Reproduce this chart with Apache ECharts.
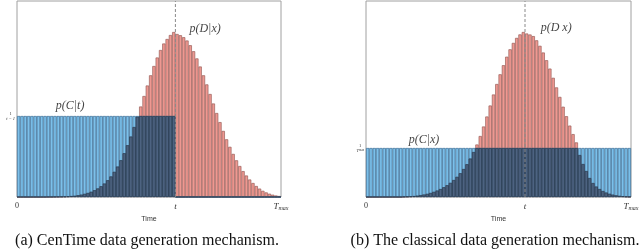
<!DOCTYPE html>
<html><head><meta charset="utf-8">
<script src="https://cdn.jsdelivr.net/npm/echarts@6/dist/echarts.min.js"></script>
<style>html,body{margin:0;padding:0;background:#fff}#c{width:640px;height:249px}</style>
</head><body><div id="c"></div>
<script>
// ---- data ----
const nBins = 80;
const tBin = 48;          // position of t on the time axis (bins)
const tMaxBin = 80;       // T_max
const yTop = 196;         // top of the density axis
const levelA = 81;        // 1/(t-1)
const levelB = 49;        // 1/T_max

// panel (a): censoring uniform on [0,t), event density
const blueA = [81,81,81,81,81,81,81,81,81,81,81,81,81,81,81,81,81,81,81,81,81,81,81,81,81,81,81,81,81,81,81,81,81,81,81,81,81,81,81,81,81,81,81,81,81,81,81,81,
  0,0,0,0,0,0,0,0,0,0,0,0,0,0,0,0,0,0,0,0,0,0,0,0,0,0,0,0,0,0,0,0];
const redA = [0,0,0,0,0,0,0,0,0,0.1,0.1,0.2,0.3,0.4,0.5,0.7,1.0,1.3,1.8,2.4,3.2,4.1,5.3,6.8,8.6,10.8,13.5,16.8,20.6,25.2,
  30.5,36.8,43.8,51.8,60.5,70.0,80.2,90.5,101.0,111.5,121.7,131.0,139.5,147.0,153.5,158.0,162.0,165.0,163.0,161.8,
  159.8,156.5,151.8,145.8,138.6,130.5,121.7,112.6,103.0,93.5,84.0,74.9,66.1,57.7,50.2,43.1,36.7,31.0,25.9,21.5,
  17.5,14.0,11.0,8.4,6.2,4.6,3.3,2.3,1.5,1.0];

// panel (b): censoring uniform on [0,T_max], event density
const blueB = [49,49,49,49,49,49,49,49,49,49,49,49,49,49,49,49,49,49,49,49,49,49,49,49,49,49,49,49,49,49,49,49,49,49,49,49,49,49,49,49,
  49,49,49,49,49,49,49,49,49,49,49,49,49,49,49,49,49,49,49,49,49,49,49,49,49,49,49,49,49,49,49,49,49,49,49,49,49,49,49,49];
const redB = [0,0,0,0,0,0,0,0,0,0,0,0.3,0.5,0.7,1.0,1.4,1.9,2.5,3.2,4.1,5.2,6.5,8.0,9.8,11.8,14.2,17.0,20.2,23.8,28.0,
  32.8,38.5,45.0,52.5,61.0,70.5,80.5,91.5,102.5,113.0,122.7,131.8,140.3,147.7,154.1,159.1,162.6,165.0,163.5,162.5,
  160.9,156.7,151.2,144.5,136.8,128.4,119.2,109.6,100.1,90.3,80.8,71.4,62.9,54.6,42,33,26,19,14,10.5,
  8,6,4.5,3.3,2.4,1.7,1.2,0.8,0.5,0.3];

// annotation anchors [time (bins), density]
const annA = [{text:'p(C|t)', at:[16.1, 91]}, {text:'p(D|x)', at:[57.0, 168]}];
const annB = [{text:'p(C|x)', at:[17.5, 57]}, {text:'p(D x)', at:[57.4, 169]}];
const captions = ['(a) CenTime data generation mechanism.', '(b) The classical data generation mechanism.'];

// ---- chart ----
const cats = Array.from({length:nBins}, (_, i) => String(i));
const ovA = redA.map((v,i)=>Math.min(v, blueA[i]));
const ovB = redB.map((v,i)=>Math.min(v, blueB[i]));

const serif = 'Liberation Serif';
const RED = '#ef9891', RED_E = '#9a5e59';
const BLUE = '#7cc0ea', BLUE_E = '#3a6c94';
const DARK = '#4d6381', DARK_E = '#2a394d';

function xLabelFmt(v){
  if (v === 0) return '{r|0}';
  if (v === tBin) return '{i|t}';
  if (v === tMaxBin) return '{i|T}{s|max}';
  return '';
}
const xRich = {
  r:{fontFamily:serif, fontSize:8, color:'#333'},
  i:{fontFamily:serif, fontStyle:'italic', fontSize:9, color:'#333'},
  s:{fontFamily:serif, fontStyle:'italic', fontSize:6, color:'#333', padding:[3,0,0,0]}
};

function bars(xi, yi, data, color, edge, z){
  return {type:'bar', xAxisIndex:xi, yAxisIndex:yi, data:data, barGap:'-100%', barCategoryGap:'0%',
    itemStyle:{color:color, borderColor:edge, borderWidth:0.7}, z:z, silent:true};
}
function ann(xi, yi, list){
  return {type:'scatter', xAxisIndex:xi, yAxisIndex:yi, symbolSize:0, z:20,
    data:list.map(a=>({value:a.at, label:{formatter:a.text}})),
    label:{show:true, position:'inside', fontFamily:serif, fontStyle:'italic', fontSize:12, color:'#111'}};
}
function tLine(xi, yi){
  return {type:'line', xAxisIndex:xi, yAxisIndex:yi, data:[[tBin,0],[tBin,yTop]], symbol:'none', z:15,
    lineStyle:{type:[3,2], color:'#8a8a8a', width:1}};
}

const gridCommon = {top:1, bottom:52, show:true, borderColor:'#a0a0a0', borderWidth:1,
  backgroundColor:'#fff', containLabel:false, outerBoundsMode:'none'};
function valX(g){
  return {type:'value', gridIndex:g, position:'bottom', min:0, max:tMaxBin, interval:8,
    axisLine:{show:false}, axisTick:{show:false}, splitLine:{show:false},
    axisLabel:{formatter:xLabelFmt, rich:xRich, margin:5, showMinLabel:true, showMaxLabel:true},
    name:'Time', nameLocation:'middle', nameGap:17,
    nameTextStyle:{fontFamily:'Liberation Sans', fontSize:7, color:'#333'}};
}
function yAx(g, level, lab){
  return {type:'value', gridIndex:g, min:0, max:yTop, interval:level,
    axisLine:{show:false}, axisTick:{show:false}, splitLine:{show:false},
    axisLabel:{margin:2, formatter:v => v === level ? lab : '',
      rich:{n:{fontSize:4.5, fontFamily:serif, color:'#333', align:'center', lineHeight:5},
            d:{fontSize:4.5, fontFamily:serif, fontStyle:'italic', color:'#333', align:'center', lineHeight:5},
            s:{fontSize:3, fontFamily:serif, fontStyle:'italic', color:'#333', lineHeight:5}}}};
}

const option = {
  animation:false,
  title: [
    {text:captions[0], left:142, top:228, textAlign:'center',
     textStyle:{fontFamily:serif, fontSize:16, fontWeight:'normal', color:'#111'}},
    {text:captions[1], left:490, top:228, textAlign:'center',
     textStyle:{fontFamily:serif, fontSize:16, fontWeight:'normal', color:'#111'}}
  ],
  grid: [Object.assign({left:17, right:359}, gridCommon), Object.assign({left:366, right:9}, gridCommon)],
  xAxis: [
    {type:'category', gridIndex:0, data:cats, show:false, position:'bottom'},
    valX(0),
    {type:'category', gridIndex:1, data:cats, show:false, position:'bottom'},
    valX(1)
  ],
  yAxis: [yAx(0, levelA, '{n|1}\n{d|t − 1}'), yAx(1, levelB, '{n|1}\n{d|T}{s|max}')],
  series: [
    bars(0,0, redA, RED, RED_E, 2),
    bars(0,0, blueA, BLUE, BLUE_E, 3),
    bars(0,0, ovA, DARK, DARK_E, 4),
    tLine(1,0),
    ann(1,0, annA),
    bars(2,1, redB, RED, RED_E, 2),
    bars(2,1, blueB, BLUE, BLUE_E, 3),
    bars(2,1, ovB, DARK, DARK_E, 4),
    tLine(3,1),
    ann(3,1, annB)
  ]
};
const chart = echarts.init(document.getElementById('c'), null, {renderer:'canvas'});
chart.setOption(option);
</script></body></html>
